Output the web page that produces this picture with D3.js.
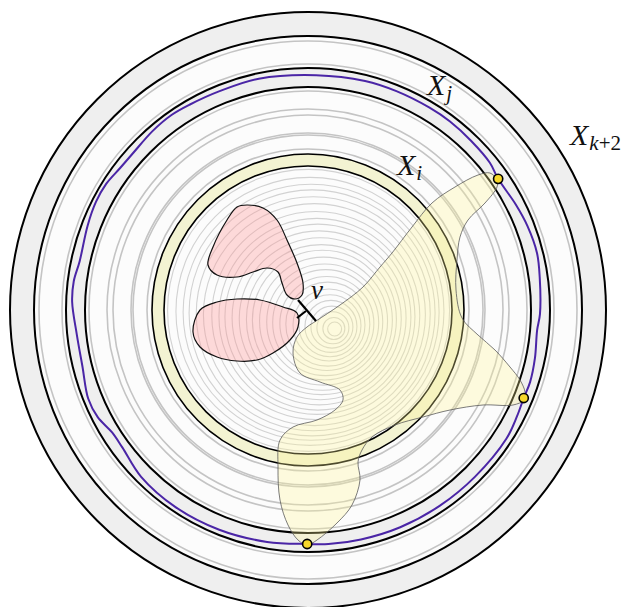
<!DOCTYPE html>
<html lang="en">
<head>
  <meta charset="UTF-8">
  <title>Nested separators</title>
  <script src="https://d3js.org/d3.v7.min.js"></script>
  <style>
    body { margin: 0; background: #fff; }
    svg { display: block; }
    .lbl { font-family: "Liberation Serif", "DejaVu Serif", serif; font-style: italic; fill: #111; }
  </style>
</head>
<body>
  <div id="chart"></div>
  <script>
    // black boundary circles: [radius, fill]
    const bands = [[298, "#efefef"], [274, "#fcfcfc"], [242, "#efefef"], [223, "#fcfcfc"]];
    // light gray circles around the centre
    const grayRadii = [269, 246, 219, 201, 195, 177, 175, 161];
    // the X_i ring
    const ringOuter = 156, ringInner = 144;
    // gray circles inside X_i, shrinking towards a point near v
    const innerRadii = [141, 134, 128, 123, 117, 111, 104, 98, 93, 87, 81, 75, 70, 64, 58, 53, 47, 42, 36, 31, 26, 21, 16, 11, 7];
    const innerFocus = [28, 20];

    // purple closed curve, [angle in degrees clockwise from top, radius]
    const purple = [
      [2, 235], [14, 236], [22, 236], [31, 236], [37, 236], [44, 235], [51, 234], [55.4, 231],
      [63, 233], [69, 235], [76, 236], [82, 234], [91, 232], [95, 230], [102, 232], [108, 233.5],
      [112.2, 233], [117, 234.5], [123, 236.5], [135, 236], [146, 236], [157, 236], [167, 235.5],
      [175, 235], [180.2, 234], [190, 235.5], [202, 237], [214, 237.5], [225, 236], [233.5, 231],
      [238, 231], [243, 236], [248, 237], [256, 232.5], [264, 232.5], [272, 236], [277, 236],
      [282, 233.5], [291, 236], [297, 238], [302, 238], [307, 235.5], [312, 235], [319, 237],
      [325, 238], [330, 237], [338, 236], [348, 236.5]
    ];
    // yellow points on the purple curve
    const dots = [[55.4, 231], [112.2, 233], [180.2, 234]];

    // region outlines, offsets from the centre (y down)
    const yellowBlob = [
      [8, 11], [32, -5], [55, -23], [72, -43], [84, -57], [104, -83], [124, -107], [147, -123],
      [170, -135], [182, -137], [189, -130], [189, -123], [177, -107], [160, -90], [152, -73],
      [149, -50], [148, -20], [154, 8], [170, 25], [187, 40], [202, 57], [212, 70], [217, 82],
      [216, 90], [205, 95], [175, 95], [142, 100], [115, 107], [87, 115], [64, 127], [54, 140],
      [50, 152], [52, 170], [44, 195], [29, 213], [9, 230], [-1, 235], [-10, 230], [-20, 215],
      [-28, 190], [-30, 157], [-28, 130], [-15, 117], [9, 110], [27, 100], [35, 90], [32, 80],
      [12, 72], [-8, 63], [-15, 43], [-11, 27], [-1, 17]
    ];
    const pinkTop = [
      [-61, -105], [-45, -102], [-31, -90], [-21, -70], [-11, -47], [-5, -27], [-6, -15],
      [-13, -11], [-21, -15], [-26, -27], [-30, -38], [-41, -42], [-55, -38], [-71, -33],
      [-91, -35], [-100, -45], [-95, -63], [-81, -90], [-71, -103]
    ];
    const pinkLow = [
      [-115, 22], [-108, 0], [-91, -8], [-71, -11], [-48, -10], [-25, -3], [-11, 3], [-10, 17],
      [-18, 30], [-35, 43], [-51, 50], [-71, 51], [-91, 47], [-108, 37]
    ];
    // little tree at v
    const treeEdges = [[[-10, -10], [8, 11]], [[-2, 1], [-11, 8]]];

    const labels = [
      { base: "X", sub: "i", subRoman: "", at: [89, -135] },
      { base: "X", sub: "j", subRoman: "", at: [119, -215] },
      { base: "X", sub: "k", subRoman: "+2", at: [262, -165] }
    ];

    const width = 630, height = 607;
    const x = d3.scaleLinear().domain([-308, 322]).range([0, width]);
    const y = d3.scaleLinear().domain([-310, 297]).range([0, height]);
    const k = x(1) - x(0);

    const svg = d3.select("#chart").append("svg")
      .attr("width", width)
      .attr("height", height);

    const cx = x(0), cy = y(0);

    // bands
    svg.selectAll("circle.band")
      .data(bands)
      .enter().append("circle")
      .attr("class", "band")
      .attr("cx", cx).attr("cy", cy)
      .attr("r", d => d[0] * k)
      .attr("fill", d => d[1])
      .attr("stroke", "#000")
      .attr("stroke-width", 2);

    svg.selectAll("circle.gray")
      .data(grayRadii)
      .enter().append("circle")
      .attr("class", "gray")
      .attr("cx", cx).attr("cy", cy)
      .attr("r", d => d * k)
      .attr("fill", "none")
      .attr("stroke", "#c4c4c4")
      .attr("stroke-width", 1.6);

    // X_i ring
    svg.append("circle")
      .attr("cx", cx).attr("cy", cy).attr("r", ringOuter * k)
      .attr("fill", "#f3f3d2").attr("stroke", "#000").attr("stroke-width", 1.6);
    svg.append("circle")
      .attr("cx", cx).attr("cy", cy).attr("r", ringInner * k)
      .attr("fill", "#fcfcfc").attr("stroke", "#000").attr("stroke-width", 1.6);

    // inner circles drift towards the focus as they shrink
    const shiftX = d3.scaleLinear().domain([0, ringInner]).range([innerFocus[0], 0]);
    const shiftY = d3.scaleLinear().domain([0, ringInner]).range([innerFocus[1], 0]);
    svg.selectAll("circle.inner")
      .data(innerRadii)
      .enter().append("circle")
      .attr("class", "inner")
      .attr("cx", d => x(shiftX(d)))
      .attr("cy", d => y(shiftY(d)))
      .attr("r", d => d * k)
      .attr("fill", "none")
      .attr("stroke", "#d2d2d2")
      .attr("stroke-width", 1.1);

    // regions
    const blob = d3.line()
      .x(d => x(d[0]))
      .y(d => y(d[1]))
      .curve(d3.curveCatmullRomClosed.alpha(0.5));

    svg.append("path")
      .attr("d", blob(yellowBlob))
      .attr("fill", "rgba(255,244,150,0.3)")
      .attr("stroke", "#5a5a5a")
      .attr("stroke-width", 0.8);

    [pinkTop, pinkLow].forEach(p => {
      svg.append("path")
        .attr("d", blob(p))
        .attr("fill", "rgba(255,150,150,0.34)")
        .attr("stroke", "#111")
        .attr("stroke-width", 1.2);
    });

    // purple curve
    const radial = d3.lineRadial()
      .angle(d => d[0] * Math.PI / 180)
      .radius(d => d[1] * k)
      .curve(d3.curveCatmullRomClosed.alpha(0.5));

    svg.append("path")
      .attr("transform", `translate(${cx},${cy})`)
      .attr("d", radial(purple))
      .attr("fill", "none")
      .attr("stroke", "#4a25a6")
      .attr("stroke-width", 2);

    // tree at v
    svg.selectAll("line.tree")
      .data(treeEdges)
      .enter().append("line")
      .attr("class", "tree")
      .attr("x1", d => x(d[0][0])).attr("y1", d => y(d[0][1]))
      .attr("x2", d => x(d[1][0])).attr("y2", d => y(d[1][1]))
      .attr("stroke", "#000")
      .attr("stroke-width", 2.2);

    // dots
    const pt = d => [cx + d[1] * k * Math.sin(d[0] * Math.PI / 180), cy - d[1] * k * Math.cos(d[0] * Math.PI / 180)];
    svg.selectAll("circle.dot")
      .data(dots)
      .enter().append("circle")
      .attr("class", "dot")
      .attr("cx", d => pt(d)[0])
      .attr("cy", d => pt(d)[1])
      .attr("r", 4.6)
      .attr("fill", "#f7d82b")
      .attr("stroke", "#000")
      .attr("stroke-width", 1.6);

    // labels
    labels.forEach(l => {
      const t = svg.append("text")
        .attr("class", "lbl")
        .attr("x", x(l.at[0]))
        .attr("y", y(l.at[1]))
        .style("font-size", "30px");
      t.append("tspan").text(l.base);
      t.append("tspan").attr("dx", 1).attr("dy", 5).style("font-size", "21px").text(l.sub);
      if (l.subRoman) t.append("tspan").style("font-size", "21px").style("font-style", "normal").text(l.subRoman);
    });

    svg.append("text")
      .attr("class", "lbl")
      .attr("x", x(3))
      .attr("y", y(-11))
      .style("font-size", "27px")
      .text("v");
  </script>
</body>
</html>
